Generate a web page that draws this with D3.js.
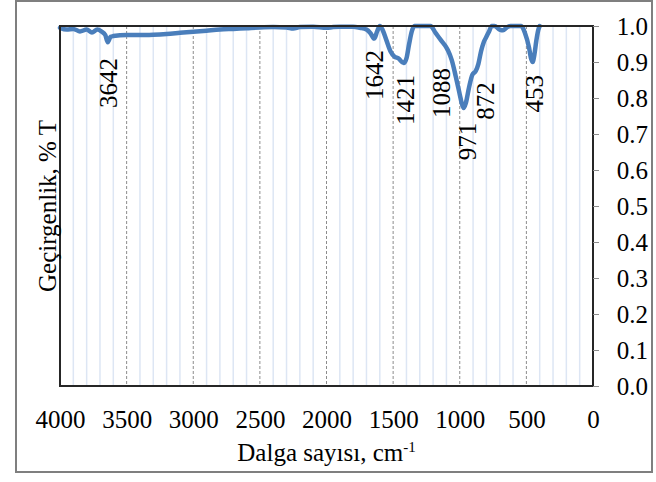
<!DOCTYPE html>
<html>
<head>
<meta charset="utf-8">
<script src="https://cdn.jsdelivr.net/npm/d3@7"></script>
<style>
  body { margin: 0; background: #fff; }
  svg text { font-family: "Liberation Serif", "DejaVu Serif", serif; fill: #000; }
</style>
</head>
<body>
<svg id="chart" width="656" height="482"></svg>
<script>
const MARGINTOP    = 26;
const MARGINRIGHT  = 63;
const MARGINBOTTOM = 96;
const MARGINLEFT   = 60;
const WIDTH  = 656;
const HEIGHT = 482;

// spectrum, wave number (cm-1) vs transmittance
var waveNumbers = [4000, 3950, 3900, 3850, 3800, 3760, 3720, 3690, 3660, 3642, 3620, 3600,
    3500, 3400, 3300, 3200, 3100, 3000, 2900, 2800, 2700, 2600, 2500, 2400, 2300, 2250,
    2200, 2100, 2000, 1950, 1900, 1800, 1750, 1700, 1670, 1642, 1620, 1600, 1580, 1550,
    1520, 1490, 1460, 1421, 1400, 1380, 1360, 1340, 1300, 1250, 1220, 1180, 1140, 1100,
    1088, 1060, 1030, 1000, 985, 971, 955, 930, 905, 880, 860, 840, 820, 800, 780, 760,
    740, 700, 675, 650, 620, 580, 540, 510, 480, 465, 453, 440, 425, 410, 400];
var transmittance = [0.995, 0.99, 0.992, 0.985, 0.99, 0.982, 0.99, 0.985, 0.975, 0.955, 0.97, 0.972,
    0.975, 0.975, 0.976, 0.978, 0.981, 0.984, 0.987, 0.99, 0.992, 0.994, 0.996, 0.997, 0.996, 0.993,
    0.997, 0.998, 0.995, 0.997, 0.998, 0.998, 0.995, 0.99, 0.98, 0.965, 0.985, 1.0, 0.99, 0.96,
    0.93, 0.915, 0.91, 0.897, 0.91, 0.95, 0.985, 1.0, 1.0, 1.0, 1.0, 0.98, 0.96, 0.94,
    0.932, 0.905, 0.86, 0.81, 0.785, 0.772, 0.785, 0.83, 0.865, 0.875, 0.895, 0.93, 0.955, 0.97, 0.985, 1.0,
    1.0, 0.99, 0.988, 0.995, 1.0, 1.0, 1.0, 0.98, 0.94, 0.91, 0.9, 0.92, 0.96, 0.99, 1.0];

// peak labels
var peakLabels = ["3642", "1642", "1421", "1088", "971", "872", "453"];
var peakLabelAt = [3642, 1642, 1410, 1140, 945, 810, 440];
var peakLabelTop = [0.911, 0.933, 0.864, 0.883, 0.731, 0.844, 0.864];

var xTicks = [4000, 3500, 3000, 2500, 2000, 1500, 1000, 500, 0];
var yTicks = [0.0, 0.1, 0.2, 0.3, 0.4, 0.5, 0.6, 0.7, 0.8, 0.9, 1.0];

var vis = d3.select("#chart");

var xRange = d3.scaleLinear()
    .range([MARGINLEFT, WIDTH - MARGINRIGHT])
    .domain([4000, 0]);
var yRange = d3.scaleLinear()
    .range([HEIGHT - MARGINBOTTOM, MARGINTOP])
    .domain([0, 1]);

// outer frame
vis.append("rect")
    .attr("x", 16).attr("y", 1)
    .attr("width", 636).attr("height", 471)
    .attr("fill", "none")
    .attr("stroke", "#7f7f7f")
    .attr("stroke-width", 2);

// minor grid every 100
var minor = d3.range(100, 4000, 100).filter(function(v){ return v % 500 !== 0; });
vis.append("g").selectAll("line")
    .data(minor)
    .enter().append("line")
    .attr("x1", function(d){ return xRange(d); })
    .attr("x2", function(d){ return xRange(d); })
    .attr("y1", yRange(1)).attr("y2", yRange(0))
    .attr("stroke", "#dde6f4")
    .attr("stroke-width", 1.5);

// major dashed grid
vis.append("g").selectAll("line")
    .data([3500, 3000, 2500, 2000, 1500, 1000, 500])
    .enter().append("line")
    .attr("x1", function(d){ return xRange(d); })
    .attr("x2", function(d){ return xRange(d); })
    .attr("y1", yRange(1)).attr("y2", yRange(0))
    .attr("stroke", "#8c8c8c")
    .attr("stroke-width", 1)
    .attr("stroke-dasharray", "3,2");

// spectrum line
var pts = waveNumbers.map(function(w, i){ return {x: w, y: transmittance[i]}; });
var line = d3.line()
    .x(function(d){ return xRange(d.x); })
    .y(function(d){ return yRange(d.y); })
    .curve(d3.curveMonotoneX);
vis.append("path")
    .datum(pts)
    .attr("d", line)
    .attr("fill", "none")
    .attr("stroke", "#4a7ebb")
    .attr("stroke-width", 4.5)
    .attr("stroke-linejoin", "round")
    .attr("stroke-linecap", "round");

// plot border
vis.append("rect")
    .attr("x", xRange(4000)).attr("y", yRange(1))
    .attr("width", xRange(0) - xRange(4000))
    .attr("height", yRange(0) - yRange(1))
    .attr("fill", "none")
    .attr("stroke", "#262626")
    .attr("stroke-width", 2);

// y axis on the right
var yAxis = d3.axisRight(yRange)
    .tickValues(yTicks)
    .tickSize(6)
    .tickFormat(d3.format(".1f"));
var gy = vis.append("g")
    .attr("transform", "translate(" + xRange(0) + ",0)")
    .call(yAxis);
gy.select(".domain").remove();
gy.selectAll("line").attr("stroke", "#8c8c8c");
gy.selectAll("text")
    .attr("x", 55)
    .attr("dy", "0.35em")
    .attr("text-anchor", "end")
    .style("font-family", "'Liberation Serif', serif")
    .style("font-size", "25px");

// x axis labels
var xAxis = d3.axisBottom(xRange)
    .tickValues(xTicks)
    .tickSize(0)
    .tickFormat(d3.format("d"));
var gx = vis.append("g")
    .attr("transform", "translate(0," + yRange(0) + ")")
    .call(xAxis);
gx.select(".domain").remove();
gx.selectAll("text")
    .attr("y", 42)
    .attr("dy", 0)
    .style("font-family", "'Liberation Serif', serif")
    .style("font-size", "25px");

// peak labels
peakLabels.forEach(function(lbl, i){
    var px = xRange(peakLabelAt[i]) + 9;
    var py = yRange(peakLabelTop[i]);
    vis.append("text")
        .attr("transform", "translate(" + px + "," + py + ") rotate(-90)")
        .attr("text-anchor", "end")
        .style("font-size", "25px")
        .text(lbl);
});

// axis titles
vis.append("text")
    .attr("transform", "translate(" + 56 + "," + ((yRange(0) + yRange(1)) / 2) + ") rotate(-90)")
    .attr("text-anchor", "middle")
    .style("font-size", "25px")
    .text("Geçirgenlik, % T");

var title = vis.append("text")
    .attr("x", (xRange(4000) + xRange(0)) / 2)
    .attr("y", 461)
    .attr("text-anchor", "middle")
    .style("font-size", "25px")
    .text("Dalga sayısı, cm");
title.append("tspan")
    .attr("dy", -9)
    .style("font-size", "15px")
    .text("-1");
</script>
</body>
</html>
